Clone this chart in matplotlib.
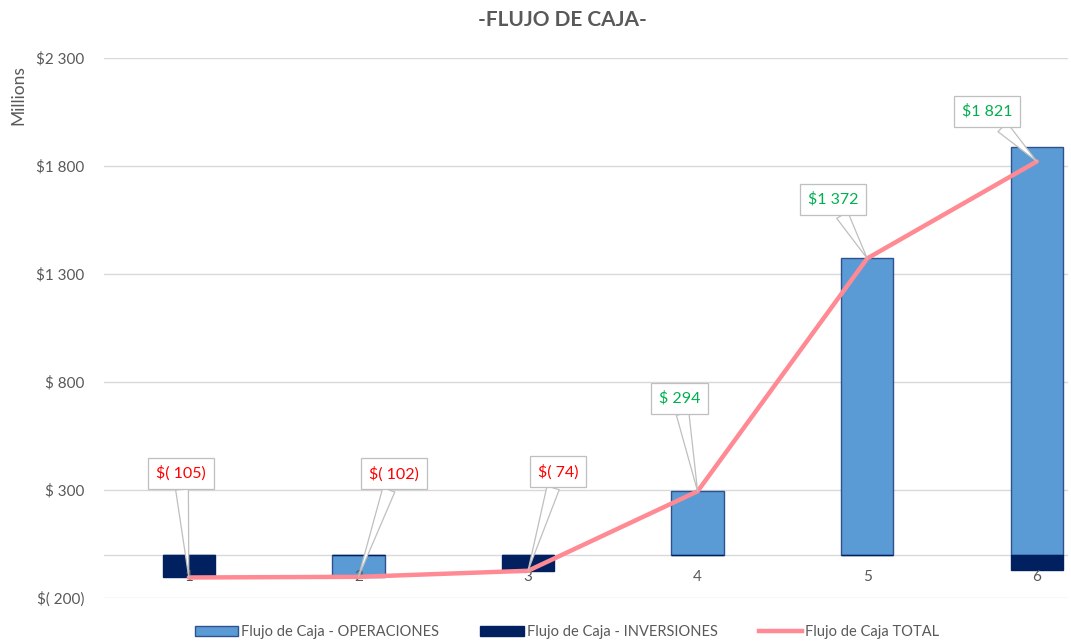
import numpy as np
import matplotlib
matplotlib.use("Agg")
import matplotlib.pyplot as plt
from matplotlib.patches import Patch
from matplotlib.lines import Line2D

plt.rcParams['font.family'] = ['Lato', 'DejaVu Sans']

categories = ["1", "2", "3", "4", "5", "6"]
operaciones = [0, -102, 0, 294, 1372, 1890]
inversiones = [-105, 0, -74, 0, 0, -69]
total = [-105, -102, -74, 294, 1372, 1821]
yticks = [-200, 300, 800, 1300, 1800, 2300]

title = "-FLUJO DE CAJA-"
series_names = ["Flujo de Caja - OPERACIONES", "Flujo de Caja - INVERSIONES", "Flujo de Caja TOTAL"]


def money(v):
    s = f"{abs(int(round(v))):,}".replace(",", " ")
    if v < 0:
        return f"$( {s})"
    return "$" + (" " if abs(v) < 1000 else "") + s


GRAY = "#595959"
GRID = "#D9D9D9"
C_OPS = "#5B9BD5"
C_OPS_EDGE = "#2F528F"
C_INV = "#002060"
C_TOT = "#FF8A94"

fig = plt.figure(figsize=(10.71, 6.42), dpi=100)
ax = fig.add_axes([104 / 1071, 44 / 642, (1068 - 104) / 1071, (598 - 58) / 642])

x = np.arange(1, len(categories) + 1)
ops = np.array(operaciones, dtype=float)
inv = np.array(inversiones, dtype=float)
inv_bottom = np.where((ops < 0) & (inv < 0), ops, 0)

w = 0.31
ax.bar(x, ops, width=w, color=C_OPS, edgecolor=C_OPS_EDGE, linewidth=1.0, zorder=2)
ax.bar(x, inv, width=w, bottom=inv_bottom, color=C_INV, edgecolor=C_INV, linewidth=1.0, zorder=2)
ax.plot(x, total, color=C_TOT, linewidth=3.2, solid_capstyle='round', solid_joinstyle='round', zorder=3)

ax.set_xlim(0.5, 0.5 + (1068 - 104) / 169.6)
ax.set_ylim(-200, 2300)
ax.set_yticks(yticks)
ax.set_yticklabels([money(v) for v in yticks], color=GRAY, fontsize=11)
ax.tick_params(axis='y', length=0, pad=14)
ax.set_xticks([])
ax.grid(axis='y', color=GRID, linewidth=1.0, zorder=0)
ax.axhline(0, color=GRID, linewidth=1.0, zorder=1)
for s in ax.spines.values():
    s.set_visible(False)

for xi, c in zip(x, categories):
    ax.annotate(c, (xi, 0), xytext=(0, -15), textcoords='offset pixels',
                ha='center', va='top', color=GRAY, fontsize=11, zorder=2.5)

fig.text(18 / 1071, 1 - 95 / 642, "Millions", rotation=90, ha='center', va='center',
         color=GRAY, fontsize=12.5)
fig.text(562 / 1071, 1 - 20 / 642, title, ha='center', va='center', color=GRAY,
         fontsize=15, fontweight='bold')

offsets = [(-8, 104), (36, 103), (30, 99), (-18, 93), (-34, 59), (-50, 50)]
for xi, v, off in zip(x, total, offsets):
    col = "#FF0000" if v < 0 else "#00B050"
    ax.annotate(money(v), (xi, v), xytext=off, textcoords='offset pixels',
                ha='center', va='center', color=col, fontsize=11.5, zorder=5,
                bbox=dict(boxstyle='square,pad=0.5', fc='white', ec='#BFBFBF', lw=0.9),
                arrowprops=dict(arrowstyle='wedge,tail_width=0.8,shrink_factor=0.5',
                                fc='white', ec='#BFBFBF', lw=0.9, shrinkA=0, shrinkB=0))

handles = [Patch(facecolor=C_OPS, edgecolor=C_OPS_EDGE, linewidth=1.0),
           Patch(facecolor=C_INV, edgecolor=C_INV),
           Line2D([0], [0], color=C_TOT, linewidth=3.2)]
fig.legend(handles, series_names, loc='center', bbox_to_anchor=(567 / 1071, 10 / 642),
           ncol=3, frameon=False, fontsize=10.5, handlelength=3.0, handleheight=0.7,
           handletextpad=0.2, columnspacing=2.8, labelcolor=GRAY)

fig.savefig("out.png", dpi=100)
